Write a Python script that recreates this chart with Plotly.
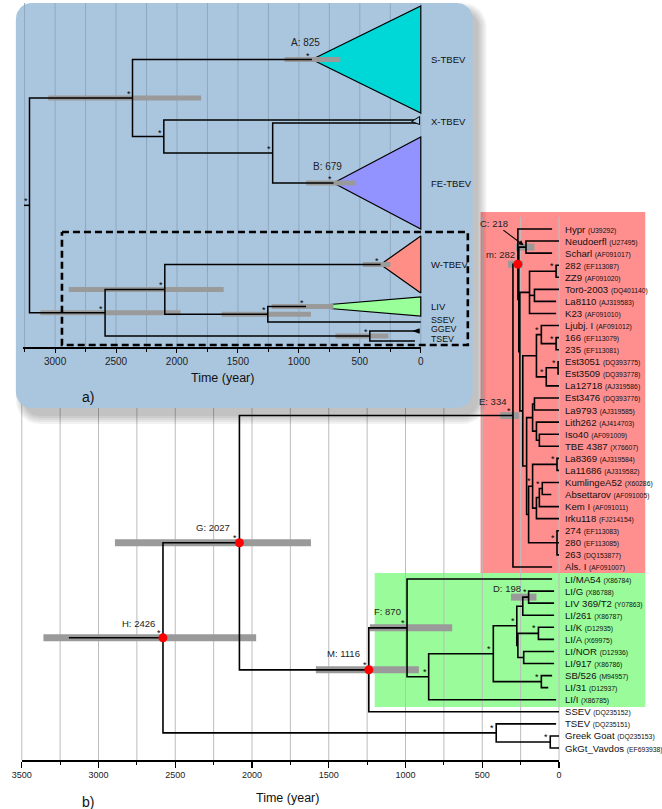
import math
import plotly.graph_objects as go

# ===================== DATA : panel b (dated tree) =====================
B_TIPS = ["Hypr", "Neudoerfl", "Scharl", "282", "ZZ9", "Torö-2003", "La8110", "K23",
          "Ljubj. I", "166", "235", "Est3051", "Est3509", "La12718", "Est3476", "La9793",
          "Lith262", "Iso40", "TBE 4387", "La8369", "La11686", "KumlingeA52", "Absettarov",
          "Kem I", "Irku118", "274", "280", "263", "Als. I",
          "LI/MA54", "LI/G", "LIV 369/T2", "LI/261", "LI/K", "LI/A", "LI/NOR", "LI/917",
          "SB/526", "LI/31", "LI/I", "SSEV", "TSEV", "Greek Goat", "GkGt_Vavdos"]
B_ACC = ["U39292", "U27495", "AF091017", "EF113087", "AF091020", "DQ401140", "AJ319583", "AF091010",
         "AF091012", "EF113079", "EF113081", "DQ393775", "DQ393778", "AJ319586", "DQ393776", "AJ319585",
         "AJ414703", "AF091009", "X76607", "AJ319584", "AJ319582", "X60286", "AF091005",
         "AF091011", "FJ214154", "EF113083", "EF113085", "DQ153877", "AF091007",
         "X86784", "X86788", "Y07863", "X86787", "D12935", "X69975", "D12936", "X86786",
         "M94957", "D12937", "X86785", "DQ235152", "DQ235151", "DQ235153", "EF693938"]
B_TIP_AGE = [45, 0, 45, 0, 0, 0, 19, 19,
             0, 0, 0, 0, 0, 0, 0, 0,
             0, 0, 0, 0, 0, 0, 50,
             0, 0, 0, 0, 0, 45,
             45, 32, 32, 32, 32, 32, 32, 32,
             45, 70, 19, 0, 19, 0, 0]
# internal node: (age in years before present, children)
B_NODES = {
    "H": (2580, ["G", "TG"]),
    "G": (2082, ["E", "M"]),
    "E": (300, ["m", "Als. I"]),
    "m": (268, ["Hypr", "N1"]),
    "N1": (262, ["C", "N2"]),
    "C": (215, ["Neudoerfl", "Scharl"]),
    "N2": (255, ["A", "B"]),
    "A": (192, ["N282", "TL", "K23"]),
    "N282": (19, ["282", "ZZ9"]),
    "TL": (160, ["Torö-2003", "La8110"]),
    "B": (236, ["LE", "R"]),
    "LE": (147, ["Lj", "EG"]),
    "Lj": (115, ["Ljubj. I", "N166"]),
    "N166": (19, ["166", "235"]),
    "EG": (83, ["E35", "La12718"]),
    "E35": (6, ["Est3051", "Est3509"]),
    "R": (211, ["EL", "R2"]),
    "EL": (172, ["EL1", "LG"]),
    "EL1": (160, ["Est3476", "La9793"]),
    "LG": (147, ["Lith262", "IT"]),
    "IT": (128, ["Iso40", "TBE 4387"]),
    "R2": (198, ["KL", "N274"]),
    "KL": (172, ["LL", "KG3"]),
    "LL": (13, ["La8369", "La11686"]),
    "KG3": (147, ["KG2", "Irku118"]),
    "KG2": (128, ["KG1", "Kem I"]),
    "KG1": (109, ["KumlingeA52", "Absettarov"]),
    "N274": (13, ["274", "280", "263"]),
    "M": (1239, ["F", "SSEV"]),
    "F": (990, ["LI/MA54", "G1"]),
    "G1": (849, ["G2", "LI/I"]),
    "G2": (428, ["G3", "SB"]),
    "G3": (275, ["G4", "G6"]),
    "G4": (236, ["D", "LI/261"]),
    "D": (198, ["LI/G", "LIV 369/T2"]),
    "G6": (268, ["G5", "NOR"]),
    "G5": (134, ["LI/K", "LI/A"]),
    "NOR": (230, ["LI/NOR", "LI/917"]),
    "SB": (115, ["SB/526", "LI/31"]),
    "TG": (409, ["TSEV", "GG"]),
    "GG": (57, ["Greek Goat", "GkGt_Vavdos"]),
}
B_ROOT = "H"
B_STEM_AGE = 3193
B_HPD = {"H": (3359, 1973), "G": (2893, 1616), "M": (1584, 913), "F": (1232, 696),
         "E": (383, 262), "m": (332, 236), "C": (281, 160), "D": (313, 147)}
B_NODE_LABEL = {"H": "H: 2426", "G": "G: 2027", "M": "M: 1116", "F": "F: 870",
                "E": "E: 334", "m": "m: 282", "D": "D: 198"}
B_ARROW_LABEL = {"C": "C: 218"}
B_RED_NODES = ["H", "G", "M", "m"]
B_SUPPORT = ["H", "G", "M", "F", "E", "N282", "Lj", "N166", "E35", "EG", "LL", "KG1", "KL",
             "N274", "D", "G5", "G3", "G2", "G1", "SB", "TG", "GG"]
B_TICKS = [3500, 3000, 2500, 2000, 1500, 1000, 500, 0]
B_MINOR = [3250, 2750, 2250, 1750, 1250, 750, 250]
B_GRID = [3500, 3250, 3000, 2750, 2500, 2250, 2000, 1750, 1500, 1250, 1000, 750, 500, 250, 0]

# ===================== DATA : panel a (collapsed tree) =====================
A_CLADES = ["S-TBEV", "FE-TBEV", "W-TBEV", "LIV"]
A_CLADE_AGE = [893, 716, 330, 941]
A_CLADE_TOP = [6, 137, 236, 297]
A_CLADE_BOT = [113, 229, 293, 316]
A_TIPS = ["Xa", "Xb", "SSEV", "GGEV", "TSEV"]
A_TIP_AGE = [15, 15, 0, 15, 48]
A_TIP_ROW = [120, 123, 322, 331, 341]
A_NODES = {
    "root": (3210, ["T", "L1"]),
    "T": (2365, ["S-TBEV", "X"]),
    "X": (2108, ["Xa", "FEp"]),
    "FEp": (1215, ["Xb", "FE-TBEV"]),
    "L1": (2590, ["L2", "GT"]),
    "L2": (2100, ["W-TBEV", "LIVp"]),
    "LIVp": (1255, ["LIV", "SSEV"]),
    "GT": (418, ["GGEV", "TSEV"]),
}
A_ROOT = "root"
A_STEM_AGE = 3255
A_HPD = {"T": (3057, 1802), "S-TBEV": (1118, 660), "FE-TBEV": (941, 531), "L1": (3121, 1971),
         "L2": (2888, 1617), "W-TBEV": (475, 249), "LIVp": (1633, 901), "LIV": (1223, 716),
         "GT": (700, 265)}
A_NODE_LABEL = {"S-TBEV": "A: 825", "FE-TBEV": "B: 679"}
A_SUPPORT = ["root", "T", "S-TBEV", "X", "FEp", "FE-TBEV", "L1", "L2", "W-TBEV", "LIVp", "LIV", "GT"]
A_TICKS = [3000, 2500, 2000, 1500, 1000, 500, 0]
A_MINOR = [3250, 2750, 2250, 1750, 1250, 750, 250]
A_GRID = [3250, 3000, 2750, 2500, 2250, 2000, 1750, 1500, 1250, 1000, 750, 500, 250, 0]
A_GROUP_LABELS = ["S-TBEV", "X-TBEV", "FE-TBEV", "W-TBEV", "LIV", "SSEV", "GGEV", "TSEV"]

# ===================== styles / geometry =====================
FIG_W, FIG_H = 662, 809
SANS = "Liberation Sans, Arial, Helvetica, sans-serif"
BAR_GREY = "#9a9a9a"
CLADE_COLORS = {"S-TBEV": "#00d8d8", "FE-TBEV": "#9393ff", "W-TBEV": "#ff8f86", "LIV": "#99ff99"}
PANEL_BLUE = "#aac6de"

BX0, BX1 = 12, 560          # px of 3500 and 0 (panel b)
BTIP0, BTIPN = 229, 748     # px of first and last tip
BAXIS = 760
AX0, AX1 = 13, 419          # px of panel a axis start and 0
A_PXYR = 373 / 3000
AAXIS = 347

kb = (BX1 - BX0) / B_TICKS[0]
sb = (BTIPN - BTIP0) / (len(B_TIPS) - 1)
ka = A_PXYR
A_MAX = (AX1 - AX0) / ka


def pb_x(px):
    return (BX1 - px) / kb


def pb_y(py):
    return (py - BTIP0) / sb


def pa_x(px):
    return (AX1 - px) / ka


def paper(px, py):
    return px / FIG_W, 1 - py / FIG_H


def layout_tree(nodes, leaf_y, leaf_age):
    ys, ages = dict(leaf_y), dict(leaf_age)

    def get(n):
        if n in ys:
            return ys[n]
        age, ch = nodes[n]
        cy = [get(c) for c in ch]
        ys[n] = (cy[0] + cy[-1]) / 2
        ages[n] = age
        return ys[n]

    for n in nodes:
        get(n)
    return ys, ages


def branch_paths(nodes, ys, ages, root, stem_age):
    xs, yl = [stem_age, ages[root], None], [ys[root], ys[root], None]
    for n, (age, ch) in nodes.items():
        f, l = ch[0], ch[-1]
        xs += [ages[f], age, age, ages[l], None]
        yl += [ys[f], ys[f], ys[l], ys[l], None]
        for c in ch[1:-1]:
            xs += [age, ages[c], None]
            yl += [ys[c], ys[c], None]
    return xs, yl


def rrect(x0, y0, x1, y1, r, n=10):
    pts = []
    for cx, cy, a0, a1 in [(x1 - r, y0 + r, -90, 0), (x1 - r, y1 - r, 0, 90),
                           (x0 + r, y1 - r, 90, 180), (x0 + r, y0 + r, 180, 270)]:
        for k in range(n + 1):
            a = math.radians(a0 + (a1 - a0) * k / n)
            pts.append((cx + r * math.cos(a), cy + r * math.sin(a)))
    pts.append(pts[0])
    return [pa_x(p[0]) for p in pts], [p[1] for p in pts]


traces = []
annotations = []


def seg_trace(xs, ys, color, width, xa, ya, dash=None):
    return go.Scatter(x=xs, y=ys, mode="lines", line=dict(color=color, width=width, dash=dash),
                      hoverinfo="skip", showlegend=False, xaxis=xa, yaxis=ya)


def fill_trace(xs, ys, fill, line_color=None, lw=0, xa="x", ya="y"):
    return go.Scatter(x=xs, y=ys, mode="lines", fill="toself", fillcolor=fill,
                      line=dict(color=line_color or "rgba(0,0,0,0)", width=lw),
                      hoverinfo="skip", showlegend=False, xaxis=xa, yaxis=ya)


# ===================== panel b =====================
b_leaf_y = {n: i for i, n in enumerate(B_TIPS)}
b_leaf_age = {n: a for n, a in zip(B_TIPS, B_TIP_AGE)}
bys, bages = layout_tree(B_NODES, b_leaf_y, b_leaf_age)

# coloured boxes
red_top, red_bot = b_leaf_y["Hypr"] - 1.4, b_leaf_y["Als. I"] + 0.5
grn_top, grn_bot = b_leaf_y["LI/MA54"] - 0.5, b_leaf_y["LI/I"] + 0.6
red_l, grn_l, box_r = pb_x(480), pb_x(372), pb_x(648)
traces.append(fill_trace([red_l, box_r, box_r, red_l, red_l], [red_top, red_top, red_bot, red_bot, red_top], "#ff8f8f"))
traces.append(fill_trace([grn_l, box_r, box_r, grn_l, grn_l], [grn_top, grn_top, grn_bot, grn_bot, grn_top], "#99fb99"))

# grid
gx, gy = [], []
for t in B_GRID:
    gx += [t, t, None]
    gy += [pb_y(217), pb_y(BAXIS), None]
traces.append(seg_trace(gx, gy, "#bdbdbd", 1, "x", "y"))

# HPD bars
hx, hy = [], []
for n, (hi, lo) in B_HPD.items():
    hx += [hi, lo, None]
    hy += [bys[n], bys[n], None]
traces.append(seg_trace(hx, hy, BAR_GREY, 7, "x", "y"))

# branches
bx_, by_ = branch_paths(B_NODES, bys, bages, B_ROOT, B_STEM_AGE)
traces.append(seg_trace(bx_, by_, "black", 1.6, "x", "y"))

# red dots
traces.append(go.Scatter(x=[bages[n] for n in B_RED_NODES], y=[bys[n] for n in B_RED_NODES],
                         mode="markers", marker=dict(color="#ff0000", size=9, line=dict(width=0)),
                         hoverinfo="skip", showlegend=False, xaxis="x", yaxis="y"))

# tip labels
for n, acc in zip(B_TIPS, B_ACC):
    annotations.append(dict(x=0, y=b_leaf_y[n], xref="x", yref="y", xanchor="left", yanchor="middle",
                            xshift=4, showarrow=False,
                            text=f"{n} <span style='font-size:6.8px'>({acc})</span>",
                            font=dict(family=SANS, size=9.6, color="#111111")))

b_lab_off = {"H": (-6, 14), "G": (-7, 15), "M": (-7, 16), "F": (-4, 16), "E": (-5, 14),
             "m": (-1, 10), "D": (-6, 9)}
for n, txt in B_NODE_LABEL.items():
    dx, dy = b_lab_off[n]
    annotations.append(dict(x=bages[n], y=bys[n], xref="x", yref="y", xanchor="right", yanchor="middle",
                            xshift=dx, yshift=dy, showarrow=False, text=txt,
                            font=dict(family=SANS, size=9.5, color="#222222")))
for n, txt in B_ARROW_LABEL.items():
    annotations.append(dict(x=bages[n], y=bys[n], xref="x", yref="y", text=txt, showarrow=True,
                            ax=-32, ay=-24, arrowhead=2, arrowsize=0.9, arrowwidth=1.1, standoff=3,
                            arrowcolor="black", font=dict(family=SANS, size=9.5, color="#222222")))
for n in B_SUPPORT:
    annotations.append(dict(x=bages[n], y=bys[n], xref="x", yref="y", text="*", showarrow=False,
                            xanchor="center", yanchor="middle", xshift=-4, yshift=5,
                            font=dict(family=SANS, size=9, color="black")))

# ===================== panel a =====================
a_leaf_y = {n: (t + b) / 2 for n, t, b in zip(A_CLADES, A_CLADE_TOP, A_CLADE_BOT)}
a_leaf_y.update({n: r for n, r in zip(A_TIPS, A_TIP_ROW)})
a_leaf_age = {n: a for n, a in zip(A_CLADES, A_CLADE_AGE)}
a_leaf_age.update({n: a for n, a in zip(A_TIPS, A_TIP_AGE)})
ays, aages = layout_tree(A_NODES, a_leaf_y, a_leaf_age)

# shadow + frame
for e in range(0, 9, 2):
    sx, sy = rrect(6 + 8 - e, 3 + 8 - e, 472 + 6 + e, 408 + 8 + e, 16 + e)
    traces.append(fill_trace(sx, sy, "rgba(0,0,0,0.05)", xa="x3", ya="y3"))
fx, fy = rrect(6, 3, 472, 408, 16)
traces.append(fill_trace(fx, fy, PANEL_BLUE, xa="x3", ya="y3"))

# grid
gx, gy = [], []
for t in A_GRID:
    gx += [t, t, None]
    gy += [3, AAXIS, None]
traces.append(seg_trace(gx, gy, "#8fa8bf", 1, "x3", "y3"))

# clade triangles
for n, t, b in zip(A_CLADES, A_CLADE_TOP, A_CLADE_BOT):
    traces.append(fill_trace([aages[n], 0, 0, aages[n]], [ays[n], t, b, ays[n]], CLADE_COLORS[n],
                             "black", 1.2, "x3", "y3"))

# HPD bars
hx, hy = [], []
for n, (hi, lo) in A_HPD.items():
    hx += [hi, lo, None]
    hy += [ays[n], ays[n], None]
traces.append(seg_trace(hx, hy, BAR_GREY, 5, "x3", "y3"))

# branches
ax_, ay_ = branch_paths(A_NODES, ays, aages, A_ROOT, A_STEM_AGE)
traces.append(seg_trace(ax_, ay_, "black", 1.5, "x3", "y3"))

# tiny collapsed X-TBEV clade and GGEV tip marker
xm = (ays["Xa"] + ays["Xb"]) / 2
traces.append(fill_trace([75, 10, 10, 75], [xm, xm - 5, xm + 3, xm], PANEL_BLUE, "black", 1, "x3", "y3"))
g = ays["GGEV"]
traces.append(fill_trace([60, 12, 12, 60], [g, g - 2.2, g + 2.2, g], "black", "black", 0.8, "x3", "y3"))

# dashed box around the lower lineages
dx0, dx1, dy0, dy1 = pa_x(53), pa_x(467), 232, 345
traces.append(seg_trace([dx0, dx1, dx1, dx0, dx0], [dy0, dy0, dy1, dy1, dy0], "black", 2.6, "x3", "y3",
                        dash="7px,4px"))

# group labels on the right
grp_rows = [a_leaf_y["S-TBEV"], (ays["Xa"] + ays["Xb"]) / 2, a_leaf_y["FE-TBEV"], a_leaf_y["W-TBEV"],
            a_leaf_y["LIV"], ays["SSEV"], ays["GGEV"], ays["TSEV"]]
for name, row in zip(A_GROUP_LABELS, grp_rows):
    small = name in ("SSEV", "GGEV", "TSEV")
    annotations.append(dict(x=0, y=row, xref="x3", yref="y3", xanchor="left", yanchor="middle",
                            xshift=8, yshift=2.5 if small else 0, showarrow=False, text=name,
                            font=dict(family=SANS, size=8.8 if small else 9.5, color="#111111")))
for n, txt in A_NODE_LABEL.items():
    annotations.append(dict(x=aages[n], y=ays[n], xref="x3", yref="y3", xanchor="center", yanchor="middle",
                            xshift=-6, yshift=17, showarrow=False, text=txt,
                            font=dict(family=SANS, size=10, color="#222222")))
for n in A_SUPPORT:
    annotations.append(dict(x=aages[n], y=ays[n], xref="x3", yref="y3", text="*", showarrow=False,
                            xanchor="center", yanchor="middle", xshift=-4, yshift=4,
                            font=dict(family=SANS, size=9, color="black")))

# axis titles and panel letters
for (px, py), txt, size in [((217, 378), "Time (year)", 12.5), ((80, 397), "a)", 14),
                             ((283, 798), "Time (year)", 12.5), ((80, 802), "b)", 14)]:
    x, y = paper(px, py)
    annotations.append(dict(x=x, y=y, xref="paper", yref="paper", xanchor="center", yanchor="middle",
                            showarrow=False, text=txt, font=dict(family=SANS, size=size, color="#111111")))

# dummy traces so the visible axes exist
traces.append(go.Scatter(x=[0], y=[0], mode="markers", marker=dict(opacity=0), hoverinfo="skip",
                         showlegend=False, xaxis="x2", yaxis="y2"))
traces.append(go.Scatter(x=[0], y=[0], mode="markers", marker=dict(opacity=0), hoverinfo="skip",
                         showlegend=False, xaxis="x4", yaxis="y4"))

fig = go.Figure(traces)
hidden = dict(visible=False, showgrid=False, zeroline=False, fixedrange=True)
fig.update_layout(
    width=FIG_W, height=FIG_H, autosize=False,
    margin=dict(l=0, r=0, t=0, b=0),
    paper_bgcolor="white", plot_bgcolor="rgba(0,0,0,0)",
    showlegend=False,
    xaxis=dict(**hidden, domain=[0, 1], range=[pb_x(0), pb_x(FIG_W)], anchor="y"),
    yaxis=dict(**hidden, domain=[0, 1], range=[pb_y(FIG_H), pb_y(0)], anchor="x"),
    xaxis2=dict(domain=[BX0 / FIG_W, BX1 / FIG_W], range=[B_TICKS[0], 0], anchor="y2",
                showgrid=False, zeroline=False, showline=True, linecolor="black", linewidth=1.5,
                ticks="outside", ticklen=6, tickwidth=1.2, tickcolor="black",
                tickvals=B_TICKS, ticktext=[str(t) for t in B_TICKS],
                tickfont=dict(family=SANS, size=9, color="#222222"),
                minor=dict(tickvals=B_MINOR, ticks="outside", ticklen=3, tickwidth=1, tickcolor="black",
                           showgrid=False),
                fixedrange=True),
    yaxis2=dict(**hidden, domain=[(FIG_H - BAXIS) / FIG_H, 0.5], range=[0, 1], anchor="x2"),
    xaxis3=dict(**hidden, domain=[0, 1], range=[pa_x(0), pa_x(FIG_W)], anchor="y3"),
    yaxis3=dict(**hidden, domain=[0, 1], range=[FIG_H, 0], anchor="x3"),
    xaxis4=dict(domain=[AX0 / FIG_W, AX1 / FIG_W], range=[A_MAX, 0], anchor="y4",
                showgrid=False, zeroline=False, showline=True, linecolor="black", linewidth=1.5,
                ticks="outside", ticklen=4, tickwidth=1, tickcolor="black",
                tickvals=A_TICKS, ticktext=[str(t) for t in A_TICKS],
                tickfont=dict(family=SANS, size=10, color="#222222"),
                minor=dict(tickvals=A_MINOR, ticks="outside", ticklen=3, tickwidth=1, tickcolor="black",
                           showgrid=False),
                fixedrange=True),
    yaxis4=dict(**hidden, domain=[(FIG_H - AAXIS) / FIG_H, 0.99], range=[0, 1], anchor="x4"),
    annotations=annotations,
)
fig.write_html("out.html", config={"displayModeBar": False, "staticPlot": True},
               post_script="document.body.style.margin='0px';document.body.style.padding='0px';"
                           "document.body.style.overflow='hidden';")
